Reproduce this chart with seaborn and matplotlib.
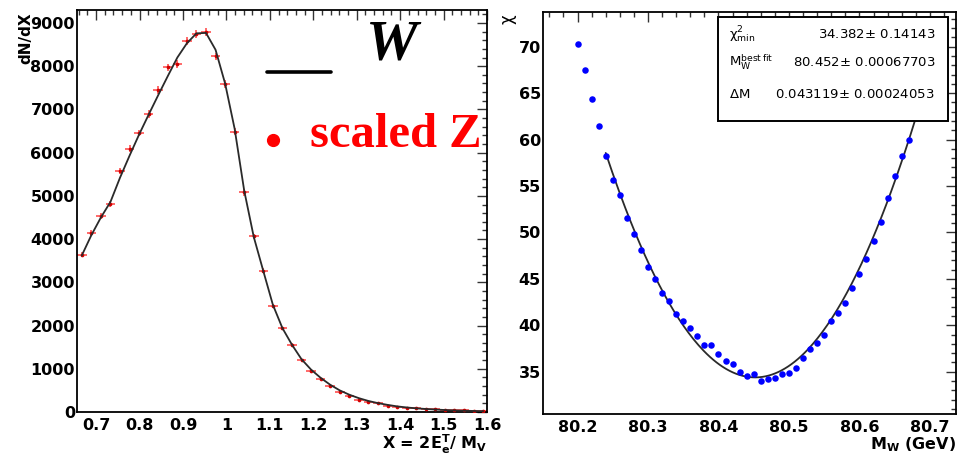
import numpy as np
import pandas as pd
import matplotlib
matplotlib.use("Agg")
import matplotlib.pyplot as plt
import seaborn as sns
from matplotlib.lines import Line2D
from matplotlib.patches import Rectangle
from matplotlib.ticker import MultipleLocator

# ---------------- data ----------------
# transverse-mass ratio bins X = 2E_T / M_V (bin centres)
x_bins = [0.667, 0.689, 0.711, 0.733, 0.755, 0.777, 0.799, 0.821, 0.843, 0.865,
          0.887, 0.909, 0.931, 0.953, 0.975, 0.997, 1.019, 1.041, 1.063, 1.085,
          1.107, 1.129, 1.151, 1.173, 1.195, 1.217, 1.239, 1.261, 1.283, 1.305,
          1.327, 1.349, 1.371, 1.393, 1.415, 1.437, 1.459, 1.481, 1.503, 1.525,
          1.547, 1.569, 1.591]
bin_width = 0.022

# scaled Z spectrum (red points)
z_counts = [3640, 4142, 4536, 4820, 5573, 6091, 6455, 6896, 7445, 7970,
            8056, 8573, 8745, 8782, 8225, 7585, 6485, 5079, 4065, 3265,
            2460, 1933, 1552, 1192, 960, 770, 597, 462, 360, 287,
            230, 210, 142, 118, 100, 81, 72, 58, 46, 44,
            35, 28, 21]

# W spectrum (black line)
w_counts = [3620, 4090, 4500, 4860, 5420, 5930, 6420, 6880, 7330, 7770,
            8200, 8530, 8760, 8770, 8380, 7600, 6550, 5120, 4050, 3260,
            2480, 1940, 1555, 1220, 980, 790, 630, 500, 400, 320,
            255, 205, 165, 130, 105, 85, 70, 57, 46, 37,
            30, 24, 19]

# chi2 scan versus W mass hypothesis
mw_scan = [80.20, 80.21, 80.22, 80.23, 80.24, 80.25, 80.26, 80.27, 80.28, 80.29,
           80.30, 80.31, 80.32, 80.33, 80.34, 80.35, 80.36, 80.37, 80.38, 80.39,
           80.40, 80.41, 80.42, 80.43, 80.44, 80.45, 80.46, 80.47, 80.48, 80.49,
           80.50, 80.51, 80.52, 80.53, 80.54, 80.55, 80.56, 80.57, 80.58, 80.59,
           80.60, 80.61, 80.62, 80.63, 80.64, 80.65, 80.66, 80.67]
chi2_scan = [70.3, 67.5, 64.4, 61.5, 58.2, 55.6, 54.0, 51.6, 49.8, 48.1,
             46.3, 45.0, 43.5, 42.6, 41.2, 40.5, 39.7, 38.8, 37.9, 37.9,
             36.9, 36.1, 35.8, 35.0, 34.5, 34.7, 34.0, 34.2, 34.3, 34.7,
             34.9, 35.4, 36.5, 37.4, 38.1, 39.0, 40.5, 41.3, 42.4, 44.0,
             45.5, 47.1, 49.1, 51.1, 53.7, 56.1, 58.2, 59.9]

# parabola fit results
chi2_min, chi2_min_err = 34.382, 0.14143
mw_best, mw_best_err = 80.452, 0.00067703
delta_m, delta_m_err = 0.043119, 0.00024053
fit_range = (80.24, 80.70)

# ---------------- style ----------------
sns.set_theme(style="white")
plt.rcParams["font.family"] = ["DejaVu Sans"]
plt.rcParams["mathtext.fontset"] = "dejavusans"
plt.rcParams["mathtext.default"] = "regular"
for key in ("text.color", "axes.labelcolor", "xtick.color", "ytick.color"):
    plt.rcParams[key] = "black"

W, H = 958, 454
fig = plt.figure(figsize=(W / 100, H / 100), dpi=100)


def fx(px):
    return px / W


def fy(py):
    return 1 - py / H


axL = fig.add_axes([fx(77), fy(412), fx(410), 402 / H])
axR = fig.add_axes([fx(543), fy(414), fx(413), 402 / H])


def root_frame(ax, major_x, minor_x, major_y, minor_y):
    for s in ax.spines.values():
        s.set_color("black")
        s.set_linewidth(1.3)
    ax.xaxis.set_major_locator(MultipleLocator(major_x))
    ax.xaxis.set_minor_locator(MultipleLocator(minor_x))
    ax.yaxis.set_major_locator(MultipleLocator(major_y))
    ax.yaxis.set_minor_locator(MultipleLocator(minor_y))
    ax.tick_params(which="both", direction="in", top=True, right=True,
                   color="#333333", width=1.0)
    ax.tick_params(which="major", length=7.5)
    ax.tick_params(which="minor", length=3.6)
    ax.tick_params(axis="x", which="major", pad=4.5, labelsize=11.5)
    ax.tick_params(axis="y", which="major", pad=1.5, labelsize=11.5)
    for lab in ax.get_xticklabels() + ax.get_yticklabels():
        lab.set_fontweight("bold")


# ---------------- left: X spectra ----------------
df_z = pd.DataFrame({"x": x_bins, "n": z_counts})
df_w = pd.DataFrame({"x": x_bins, "n": w_counts})

axL.errorbar(df_z["x"], df_z["n"], xerr=bin_width / 2, yerr=np.sqrt(df_z["n"]),
             fmt="none", ecolor="#ff2020", elinewidth=1.1, alpha=0.85, zorder=2)
sns.scatterplot(data=df_z, x="x", y="n", ax=axL, color="#d00000", s=7,
                linewidth=0, zorder=3)
sns.lineplot(data=df_w, x="x", y="n", ax=axL, color="#2a2a2a", linewidth=1.3,
             zorder=4)

axL.set_xlim(0.656, 1.6)
axL.set_ylim(0, 9300)
root_frame(axL, 0.1, 0.02, 1000, 200)
axL.set_xticks([0.7, 0.8, 0.9, 1.0, 1.1, 1.2, 1.3, 1.4, 1.5, 1.6])
axL.set_xticklabels(["0.7", "0.8", "0.9", "1", "1.1", "1.2", "1.3", "1.4", "1.5", "1.6"],
                    fontweight="bold")

axL.set_xlabel(r"X = 2E$_{\mathbf{e}}^{\mathbf{T}}$/ M$_{\mathbf{V}}$",
               fontsize=11.5, fontweight="bold", ha="right", va="top")
axL.xaxis.set_label_coords(1.0, -0.051)
axL.set_ylabel("dN/dX", fontsize=11, fontweight="bold", ha="right", va="bottom")
axL.yaxis.set_label_coords(-0.107, 0.995)

# in-panel key
fig.add_artist(Line2D([fx(267), fx(331)], [fy(72), fy(72)], color="black",
                      linewidth=2.6))
fig.text(fx(392), fy(45), "W", fontsize=42, family="Liberation Serif",
         fontweight="bold", fontstyle="italic", ha="center", va="center")
fig.add_artist(Line2D([fx(273)], [fy(140)], marker="o", markersize=8.5,
                      color="#ff0000", linestyle="none"))
fig.text(fx(310), fy(147), "scaled Z", fontsize=35, family="Liberation Serif",
         fontweight="bold", color="#ff0000", ha="left", va="baseline")

# ---------------- right: chi2 scan ----------------
df_scan = pd.DataFrame({"mw": mw_scan, "chi2": chi2_scan})
mw_fit = np.linspace(fit_range[0], fit_range[1], 200)
df_fit = pd.DataFrame({"mw": mw_fit,
                       "chi2": chi2_min + ((mw_fit - mw_best) / delta_m) ** 2})

sns.lineplot(data=df_fit, x="mw", y="chi2", ax=axR, color="#2a2a2a",
             linewidth=1.3, zorder=3)
sns.scatterplot(data=df_scan, x="mw", y="chi2", ax=axR, color="#0000ff", s=22,
                linewidth=0, zorder=4)

axR.set_xlim(80.151, 80.737)
axR.set_ylim(30.44, 73.74)
root_frame(axR, 0.1, 0.02, 5, 1)

axR.set_xlabel(r"M$_{\mathbf{W}}$ (GeV)", fontsize=11.5, fontweight="bold",
               ha="right", va="top")
axR.xaxis.set_label_coords(1.0, -0.053)
axR.set_ylabel(r"$\chi$", fontsize=12, ha="right", va="bottom")
axR.yaxis.set_label_coords(-0.058, 0.995)

# fit statistics box
box = Rectangle((0.424, 0.729), 0.557, 0.258, transform=axR.transAxes,
                facecolor="white", edgecolor="black", linewidth=1.4, zorder=6)
axR.add_patch(box)
rows = [
    (35, r"$\chi^{2}_{min}$", f"{chi2_min:.3f}$\\pm$ {chi2_min_err}"),
    (62, r"M$_{W}^{best\,fit}$", f"{mw_best:.3f}$\\pm$ {mw_best_err:.8f}"),
    (94, r"$\Delta$M", f"{delta_m:.6f}$\\pm$ {delta_m_err:.8f}"),
]
for py, name, value in rows:
    fig.text(fx(729), fy(py), name, fontsize=9.5, ha="left", va="center",
             zorder=7)
    fig.text(fx(935), fy(py), value, fontsize=9.5, ha="right", va="center",
             zorder=7)

fig.savefig("out.png", dpi=100)
